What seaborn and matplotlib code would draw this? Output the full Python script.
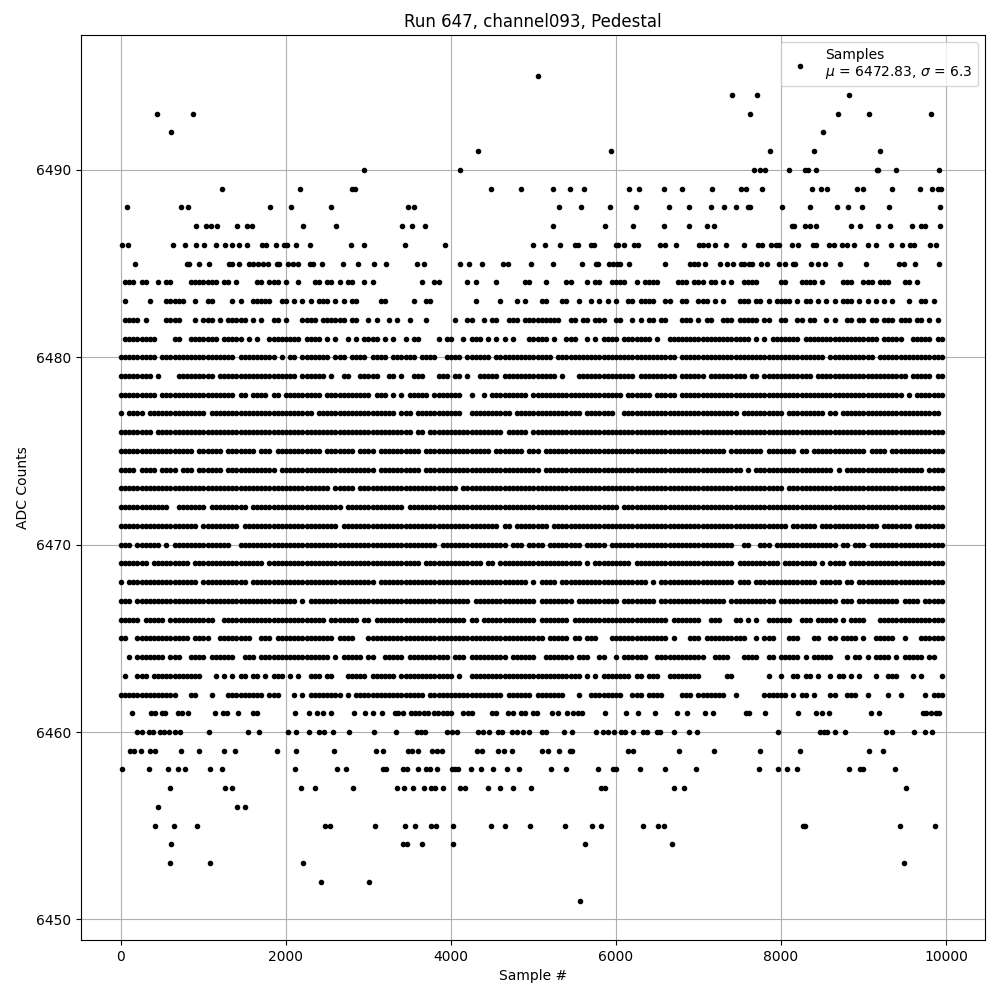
#%%
import pandas as pd
import seaborn as sns
import matplotlib
matplotlib.use('Agg')
import matplotlib.pyplot as plt

# sparse ADC levels: sample numbers
x_6495 = [5060]
x_6494 = [7410, 7713, 8829]
x_6493 = [441, 877, 7629, 8695, 9071, 9822]
x_6492 = [610, 8513]
x_6491 = [4332, 5944, 7871, 8404, 9204]
x_6490 = [2950, 4113, 7677, 7742, 7810, 8101, 8295, 8332, 8429, 9160, 9176, 9398, 9919]
x_6489 = [1229, 2174, 2796, 2836, 4489, 4853, 5241, 5447, 5616, 6162, 6283, 6586, 6804, 7168,
          7520, 7580, 7774, 8380, 8485, 8558, 8926, 8998, 9350, 9689, 9834, 9907, 9944]
x_6488 = [77, 731, 816, 1810, 2065, 2550, 3483, 3556, 5313, 5580, 5931, 6247, 6647, 6889, 7156,
          7314, 7459, 7604, 7629, 8016, 8356, 8683, 8816, 8986, 9313, 9931]
x_6487 = [913, 1035, 1095, 1168, 1410, 1531, 1592, 2210, 2610, 3410, 3532, 3689, 5241, 5871,
          6210, 6586, 6889, 7107, 7192, 8138, 8162, 8295, 8356, 8429, 8853, 8962, 9180, 9325,
          9592, 9701, 9750, 9931]
x_6486 = [16, 89, 635, 780, 913, 1010, 1156, 1265, 1350, 1435, 1531, 1713, 1758, 1883, 1980, 2016,
          2125, 2295, 2792, 2950, 3447, 3932, 4998, 5144, 5325, 5503, 5544, 5701, 5729, 6004, 6028,
          6101, 6222, 6271, 6537, 6598, 6731, 7011, 7059, 7120, 7200, 7338, 7556, 7726, 7774, 7883,
          7944, 7980, 8138, 8210, 8392, 8429, 8586, 8643, 8744, 8796, 8889, 9059, 9156, 9338, 9471,
          9568, 9616, 9810, 9883]
x_6485 = [174, 804, 829, 950, 1071, 1313, 1346, 1426, 1556, 1604, 1665, 1725, 1786, 1887, 1911,
          2028, 2081, 2150, 2295, 2323, 2440, 2695, 2877, 3071, 3216, 3592, 3677, 4113, 4222, 4380,
          4635, 4695, 4974, 5241, 5592, 5762, 5786, 5919, 5968, 6016, 6053, 6162, 6598, 6897, 6946,
          6998, 7079, 7265, 7350, 7415, 7520, 7556, 7617, 7653, 7762, 7827, 7980, 8053, 8150, 8174,
          8368, 8453, 8538, 8719, 9035, 9434, 9495, 9628, 9919]
x_6461 = [138, 360, 412, 493, 533, 687, 744, 816, 1144, 1241, 1289, 1422, 1604, 1653, 2113, 2283,
          2380, 2445, 2550, 2829, 2962, 3059, 3160, 3321, 3362, 3415, 3511, 3564, 3617, 3673, 3726,
          3794, 3847, 3899, 3948, 4000, 4142, 4210, 4259, 4493, 4546, 4695, 4748, 4845, 4897, 5000,
          5047, 5220, 5301, 5410, 5475, 5544, 5584, 5871, 6125, 6271, 6477, 6735, 6857, 7083, 7180,
          7576, 7617, 7810, 8210, 8429, 8501, 8586, 9095, 9192, 9725, 9758, 9814, 9875, 9919]
x_6460 = [198, 259, 344, 392, 473, 522, 586, 655, 719, 1067, 1544, 1677, 2028, 2125, 2283, 2404,
          2465, 2574, 2768, 3071, 3337, 3584, 3633, 3685, 3948, 4008, 4069, 4324, 4392, 4461, 4574,
          4622, 4736, 4796, 4877, 4950, 5099, 5148, 5374, 5471, 5762, 5847, 5907, 5976, 6061, 6113,
          6210, 6331, 6372, 6493, 6533, 6707, 6889, 6986, 7968, 8473, 8526, 8554, 8659, 8780, 9277,
          9342, 9616, 9741, 9834]
x_6459 = [109, 162, 247, 352, 412, 731, 950, 1253, 1386, 1895, 2125, 2586, 3095, 3180, 3483, 3532,
          3604, 3774, 3827, 3887, 4319, 4380, 4574, 4647, 4744, 5107, 5180, 5309, 5443, 5471, 6150,
          6210, 6768, 7192, 7750, 8235, 9071, 9241]
x_6458 = [16, 344, 574, 695, 780, 1083, 1229, 2113, 2622, 2731, 3180, 3212, 3423, 3463, 3604, 3697,
          3746, 3835, 4016, 4049, 4089, 4247, 4368, 4513, 4683, 4829, 5216, 5398, 5786, 5968, 6000,
          6295, 6598, 6974, 7738, 7968, 8077, 8198, 8829, 8958, 8998, 9386]
x_6457 = [598, 1265, 1350, 2186, 2356, 2816, 3350, 3435, 3544, 3677, 3754, 3806, 3907, 4113, 4174,
          4453, 4598, 4756, 4974, 5822, 5871, 6707, 6829, 9519]
x_6456 = [453, 1410, 1507]
x_6455 = [416, 647, 925, 2477, 2537, 3083, 3447, 3568, 3762, 3823, 4029, 4489, 4659, 4962, 5386,
          5713, 5822, 6331, 6513, 6586, 8271, 8291, 9447, 9871]
x_6454 = [610, 3415, 3463, 3653, 4029, 5628, 6683]
x_6453 = [598, 1083, 2210, 9495]
x_6452 = [2428, 3010]
x_6451 = [5568]

sparse_levels = [6495, 6494, 6493, 6492, 6491, 6490, 6489, 6488, 6487, 6486, 6485,
                 6461, 6460, 6459, 6458, 6457, 6456, 6455, 6454, 6453, 6452, 6451]
sparse_samples = [x_6495, x_6494, x_6493, x_6492, x_6491, x_6490, x_6489, x_6488, x_6487, x_6486, x_6485,
                  x_6461, x_6460, x_6459, x_6458, x_6457, x_6456, x_6455, x_6454, x_6453, x_6452, x_6451]

# dense levels: one character per 50 samples, '#' = a sample there.
# left part starts at sample 0, middle at 3300, right at 6700
dense_levels = list(range(6484, 6461, -1))
rows_left = [
    ".###. ##..# .##.. ..### ####. ##.#. ...## .###. #..#. ..##. ##.#. ##..# .#... .",
    ".#... ..#.. .#### #..#. .##.. ..#.# ..### ##..# #.#.# .#.## #.#.# .##.. ...## .",
    ".#### .#... .#### ...#. ###.# .#### #.#.# ..##. #...# ###.# ##### .##.. #.#.. #",
    ".#### ####. ...## ..### ####. ##### .#.#. .#### ####. ####. #.#.. #.#.# ###.# .",
    "##### ####. ##### ##### ##### ###.# ##### ###.# .##.# ##### #.### .#### .#### .",
    "##### ###.# ....# ##### ###.# ##### ##### ##### ###.# ##### .#..# #..## ###.. #",
    "##### ####. ##### ##### ##### ###.# #.### #.##. ##### ####. ##### ##### #.### .",
    "#.### #.### ##### ##### #.### ##### ##### ##### ##### ##.## ##### ##### ##### #",
    "##### ###.# ##### ##### ##### ##### ##### ##### ##### ##### ##### ##### ##### #",
    "##### ##### ##### ###.# ##### .#### ###.# ##.## ##### ####. ##### ##.## ##.## #",
    "####. ####. ####. ###.# ##### .#### ##### ###.# ##### ##### ##### ##### ##.## #",
    "##### ##### ##### ##### ##### ##### ##### ##### ##### ##### #.### ##.## ##### #",
    "##### ##### ##..# ##### #.### ##### #.### ##### ##### ##### ####. ##### ##### #",
    "##### ##### ##### ####. ##### ####. ##### ##### ##### ##### ###.# ##### ##### #",
    "###.# ##### .#.## ##### ##### ##..# ##### ##### ##### ##### ##### ##### ##### #",
    "##### ##.## ##### ##.## ##### ##### ##### .#### ##### ##### ##### ##### ##### #",
    "#.### ##### ##### ####. ##### ##### #.### ##### ##### ##### ##### ##### ##.## #",
    "###.# ##### ##### ##### ##### ##### ##### ##### ###.# .#### ##### ##### ##### #",
    "##### .#### #.### ##### ###.. ##### ##### ##### ##### ##### .#### ###.# #.### #",
    "##..# ##### ##### ##.## ##..# ##### ##..# ##.## ##### ##### ##.## ##... ##### #",
    "..#.# ##### #.### ..### #.### ###.. ###.# ##### ##### ##### #.#.# ####. ##..# #",
    ".#..# ##.## ##### ##### ...#. #.#.# #.##. #.### .#.#. .###. ##... ##### .#### #",
    "##### ##### ####. ..##. ..#.. .#### ##### .###. ..#.# .#### ####. #.### ##### #",
]
rows_middle = [
    "..... ..#.. ##... ...#. #.... #.... ..##. ..#.. ..##. ..#.# #..## ##..# .#### ...",
    "..... #..## ..... ..... #.... .#... #.#.. .##.. .##.. #..#. #.#.# ..##. ####. .##",
    ".#..# ...#. ..... #..## ..#.# #..## #.### ##### #..## .##.# ##..# #..#. #.##. ##.",
    "#..#. ##... .#.## ..#.# ##.#. #.#.# ...## ###.# ..### ..#.# .#### .#### ###.# ..#",
    "##### #.### #..## ##.## ####. ##### ##### ####. ##### ##### ##### ##### ##### ###",
    "#.#.. ###.. .###. ##.#. .#### #.### ##### ##### .#... ##### ##### ####. ##### ###",
    "#.#.# ####. ##### ##..# ..#.# ##### ###.# ##### ##### ##### ##### #.### ###.# ###",
    "#.### .#### ##### ##..# ##### ####. ##### ##### ##### #.### ####. .#### ##### ###",
    "##### .##.# ##### ##### ##### ##.## ###.# ##### ##### ##### ##### ##### ##### ###",
    "##### ##.## ##### ##### ####. ##### ##.## #.### ##### ##### ##### ##### ##### ###",
    "##### ##.## ##### ##### ##### ##### ##### #.### ##### ##### ##### ##### ##### ###",
    "##### ##### ##### #.### ##### ##### ##### ##### ##### ##### ##### ##### ##### ###",
    "###.# ##### ##### ##### ##### ##### ##### ##### ##### ##### ##### .#### ##### ###",
    "##### ##### ##### ##### ##### #.##. ##### ###.# ##### ##### ##### ##### ##### ###",
    "##### ##### #.### ##### ##### ###.# ##.## ##.## ##### #.### ##.## ##### ##### ###",
    "##### ##.## ##### ##### ##.## .#### ##### ##### ##### #.#.# ##### ###.# ##### ###",
    "##### ##### ##### ##### ##### ##### ###.# .#### .#### ##### ##### ##### ##.#. ###",
    "##### ##### ##### ####. ##### ##### ##### .#### ####. ##### ##### .#### ####. ###",
    "##### ##### ##### ###.# #.### ##### ##### .#### ###.# ##### ##### ##### ##### ##.",
    "##### ##### ##### ##### ##### ##### ##### ##.## ###.# #.### ...## ##### ##### ##.",
    "###.# ##### ####. ###.# ##### ###.# ##### ..### ####. ###.. ##..# .#### ##..# ###",
    "#.### ##### ##### .#..# ##### ##### ##### ##### ##### #.#.# .#### ###.# #.### ..#",
    "##### ###.# ##### ##### ##### ##.## ####. ##### ##... #..## ##### #..## #.### #..",
]
rows_right = [
    ".###. ###.# #.#.# ..### #.... .##.. .#### .#... .###. .###. ###.. .##.# ..... .",
    "..##. .###. #.#.. .###. ##.#. ####. #.##. #.#.# .###. #.#.# .#.#. ..#.. ##.#. .",
    "..### .#.## ..### .#### #.##. .##.. ##.## ..#.# ..##. ##.## .###. ###.# #.#.# .",
    "##### ##### ##### ####. #.#.# ##### #.### ##### ##### ##### .#### #..## ###.# #",
    "#.### ##### ##### ##### ##### ##### ##### ##.## ##### ####. ##### ##### ##### #",
    "#.### ###.# ##### ###.# #.### ##### ####. ##### ##### ##### ##### ##.## ###.# #",
    "#.### ##### ##### ##### ##### ##### ##### ##### ##### ##### ##### #.#.# ##### #",
    "##### ##### ##### #.### ##### ##.## ##### ##.## .#### ##### ##### ##### ##### .",
    "##### ##### ##### ##### ##### ##### ##### ##### ##### ##### ##### ##### ##### #",
    "##### ##### ###.# ##### ##.## ##### .##.# ##### ##### ##.## ##.## ##### ##### #",
    "##### ##### ##### ##.#. ##### ##### ##### ####. #.### ##### ##### ##### #.### #",
    "##### ##### ##### ##### ##### ##.## ##### ##### ##### ##### ##### ##### ##### #",
    "##### ##### ##### ##### ##### ##### ##### ##### ##### ##### ##### ##### ##### #",
    "##### ##### ##### ##### ##### ###.# ##### .#### ##### ##### .#### ###.# ##### #",
    "##### ##### ##### ..##. .###. ##### ##### ##### .##.# ##.## ##### ##### ##### #",
    "##### ##### ##### .#### ##### #.### ##### .#.## ##.## ##### ##### ##### ##### #",
    "##### ##### ##### .###. ##### ##### ##### .#### #.##. ##### ##### ##### ##### #",
    "##### ##### ###.# ##### ##### .#### ##### ##### .###. ##### ##### .#### .#### #",
    "##### ##..# ##... ##.#. #..## ####. .###. ##### .#.## ##... ##### ##### ##### #",
    "#...# ##.## ##### ###.. #.### ...## #...# #..## .#### .#..# ####. .#... ##### #",
    "##### ###.. ####. ..### #..## .#### #.#.# ####. ..#.# #.#.# ###.# .#### #.##. .",
    "##### ##... ...## ..... ...#. .#..# #.##. #..#. ##.#. #...# ..### ...#. #.... #",
    "..### .#### ###.. #.... ..### ###.# .##.# ...## ..### ..#.. ..#.. #.... .#.## #",
]
part_starts = [0, 3300, 6700]
cell_width = 50

samples, counts = [], []
for level, xs in zip(sparse_levels, sparse_samples):
    samples += xs
    counts += [level] * len(xs)
for level, left, middle, right in zip(dense_levels, rows_left, rows_middle, rows_right):
    for start, row in zip(part_starts, [left, middle, right]):
        cells = row.replace(" ", "")
        xs = [start + i * cell_width for i, c in enumerate(cells) if c == "#"]
        samples += xs
        counts += [level] * len(xs)

df = pd.DataFrame({"sample": samples, "adc": counts})

#%%
fig, ax = plt.subplots(figsize=(10, 10), dpi=100)
sns.scatterplot(
    data=df, x="sample", y="adc",
    color="k", marker=".", s=36,
    edgecolor="k", linewidth=1,
    zorder=2, ax=ax,
    label="Samples\n$\\mu$ = 6472.83, $\\sigma$ = 6.3",
)
ax.set_xlim(-490, 10473)
ax.set_ylim(6448.9, 6497.2)
ax.set_xticks(range(0, 10001, 2000))
ax.set_yticks(range(6450, 6491, 10))
ax.ticklabel_format(useOffset=False, style="plain")
ax.grid(True)
ax.set_title("Run 647, channel093, Pedestal")
ax.set_xlabel("Sample #")
ax.set_ylabel("ADC Counts")
ax.legend(loc="upper right")
fig.subplots_adjust(left=0.0805, right=0.985, top=0.965, bottom=0.06)
fig.savefig("out.png", dpi=100)
